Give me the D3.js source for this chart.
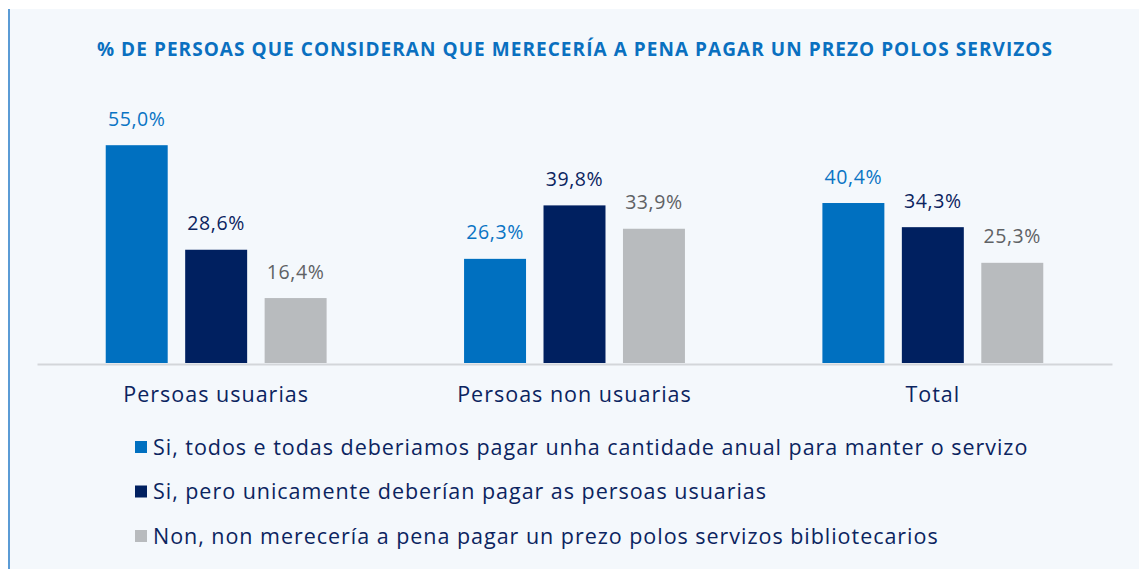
<!DOCTYPE html>
<html>
<head>
<meta charset="utf-8">
<script src="https://cdn.jsdelivr.net/npm/d3@7"></script>
<style>
  body { margin: 0; background: #ffffff; }
  svg { display: block; font-family: "Open Sans", sans-serif; }
</style>
</head>
<body>
<div id="chart"></div>
<script>
const WIDTH = 1139;
const HEIGHT = 569;

const TITULO = "% DE PERSOAS QUE CONSIDERAN QUE MERECERÍA A PENA PAGAR UN PREZO POLOS SERVIZOS";

const GRUPOS = ["Persoas usuarias", "Persoas non usuarias", "Total"];
const SERIES = [
  "Si, todos e todas deberiamos pagar unha cantidade anual para manter o servizo",
  "Si, pero unicamente deberían pagar as persoas usuarias",
  "Non, non merecería a pena pagar un prezo polos servizos bibliotecarios"
];
const VALORES_TODOS = [55.0, 26.3, 40.4];
const VALORES_USUARIAS = [28.6, 39.8, 34.3];
const VALORES_NON = [16.4, 33.9, 25.3];

const COLORES_BARRA = ["#0070c0", "#002060", "#b8bbbe"];
const COLORES_ETIQUETA = ["#0a74c4", "#0b2460", "#5f6265"];

const svg = d3.select("#chart").append("svg")
  .attr("width", WIDTH).attr("height", HEIGHT);

// fondo y borde izquierdo
svg.append("rect").attr("x", 9).attr("y", 9)
  .attr("width", WIDTH - 9).attr("height", HEIGHT - 9)
  .attr("fill", "#f4f8fc");
svg.append("rect").attr("x", 8).attr("y", 9)
  .attr("width", 2).attr("height", HEIGHT - 9)
  .attr("fill", "#5b9bd5");

svg.append("text")
  .attr("x", 575).attr("y", 56)
  .attr("text-anchor", "middle")
  .attr("font-size", 19).attr("font-weight", 700)
  .attr("letter-spacing", 1.05)
  .attr("fill", "#0a70c0")
  .text(TITULO);

const series = [VALORES_TODOS, VALORES_USUARIAS, VALORES_NON];
const datos = [];
GRUPOS.forEach((g, i) => {
  series.forEach((vals, j) => {
    datos.push({ grupo: g, serie: j, valor: vals[i] });
  });
});

const x0 = d3.scaleBand().domain(GRUPOS).range([37, 1112]);
const x1 = d3.scaleBand().domain([0, 1, 2])
  .range([0, x0.bandwidth()])
  .paddingInner(0.22).paddingOuter(0.865);
const y = d3.scaleLinear().domain([0, 60]).range([363, 125.4]);

svg.selectAll("rect.barra")
  .data(datos)
  .join("rect")
  .attr("class", "barra")
  .attr("x", d => x0(d.grupo) + x1(d.serie))
  .attr("y", d => y(d.valor))
  .attr("width", x1.bandwidth())
  .attr("height", d => y(0) - y(d.valor))
  .attr("fill", d => COLORES_BARRA[d.serie]);

svg.selectAll("text.valor")
  .data(datos)
  .join("text")
  .attr("class", "valor")
  .attr("x", d => x0(d.grupo) + x1(d.serie) + x1.bandwidth() / 2)
  .attr("y", d => y(d.valor) - 19.5)
  .attr("text-anchor", "middle")
  .attr("font-size", 19.5)
  .attr("letter-spacing", 0.6)
  .attr("font-weight", d => d.serie === 1 ? 500 : 400)
  .attr("fill", d => COLORES_ETIQUETA[d.serie])
  .text(d => d3.format(".1f")(d.valor).replace(".", ",") + "%");

// eje x
const eje = svg.append("g")
  .attr("transform", `translate(0, ${y(0) + 1})`)
  .call(d3.axisBottom(x0).tickSize(0).tickPadding(23));
eje.select(".domain").attr("stroke", "#d3d6da").attr("stroke-width", 2);
eje.selectAll("text")
  .attr("font-family", "Open Sans, sans-serif")
  .attr("font-size", 21.5).attr("letter-spacing", 1)
  .attr("fill", "#0b2460");

// leyenda
const leyenda = svg.selectAll("g.leyenda")
  .data(SERIES)
  .join("g")
  .attr("class", "leyenda")
  .attr("transform", (d, i) => `translate(135, ${447 + i * 44.5})`);
leyenda.append("rect")
  .attr("x", 0).attr("y", -6).attr("width", 12).attr("height", 12)
  .attr("fill", (d, i) => COLORES_BARRA[i]);
leyenda.append("text")
  .attr("x", 18).attr("y", 7.5)
  .attr("font-size", 21.5).attr("letter-spacing", 0.97)
  .attr("fill", "#0b2460")
  .text(d => d);
</script>
</body>
</html>
